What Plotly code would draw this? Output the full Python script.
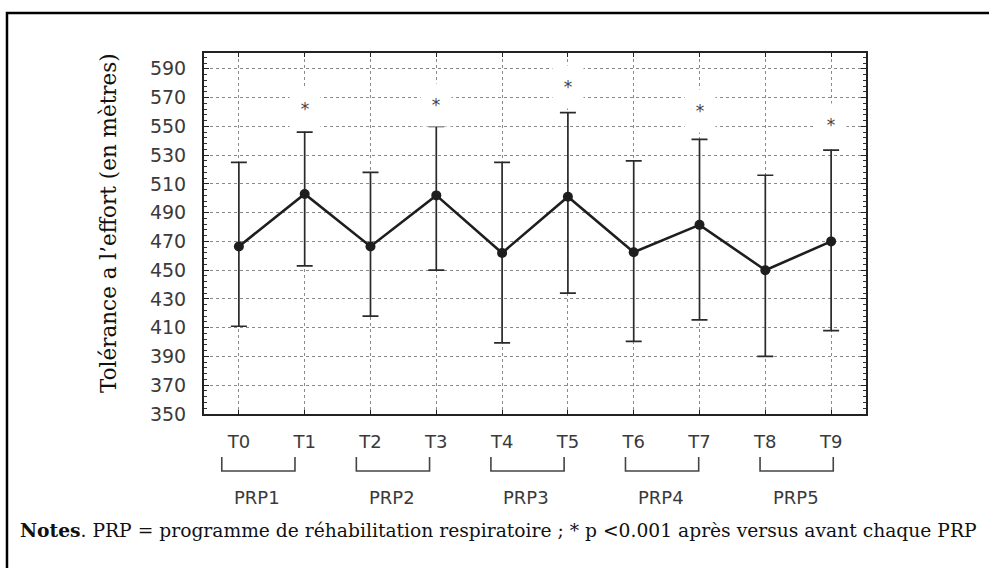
import plotly.graph_objects as go

# ---- data ----
time_labels = ["T0", "T1", "T2", "T3", "T4", "T5", "T6", "T7", "T8", "T9"]
mean_vals   = [466.5, 503, 466.5, 502, 462, 501, 462.5, 481.5, 450, 470]
upper_vals  = [525, 546, 518, 550, 525, 559.5, 526, 541, 516, 533.5]
lower_vals  = [411, 453, 418, 450, 399.5, 434, 400.5, 415.5, 390, 408]
star_idx    = [1, 3, 5, 7, 9]
star_vals   = [565, 567.5, 580, 563.5, 554]
prp_labels  = ["PRP1", "PRP2", "PRP3", "PRP4", "PRP5"]
y_ticks     = [350, 370, 390, 410, 430, 450, 470, 490, 510, 530, 550, 570, 590]

x_idx = list(range(len(time_labels)))
err_plus = [u - m for u, m in zip(upper_vals, mean_vals)]
err_minus = [m - l for m, l in zip(mean_vals, lower_vals)]

SANS = "DejaVu Sans"
SERIF = "DejaVu Serif"
TXT = "#3a3a3a"

fig = go.Figure()
fig.add_trace(go.Scatter(
    x=x_idx, y=mean_vals,
    mode="lines+markers",
    line=dict(color="#1e1e1e", width=2.6),
    marker=dict(color="#1e1e1e", size=10),
    error_y=dict(type="data", symmetric=False, array=err_plus, arrayminus=err_minus,
                 color="#2a2a2a", thickness=1.7, width=8),
    showlegend=False, hoverinfo="skip",
))

annotations = []
# significance stars with white boxes that interrupt the grid
for i, v in zip(star_idx, star_vals):
    annotations.append(dict(x=i, y=v, xref="x", yref="y", text="*", showarrow=False,
                            font=dict(family=SANS, size=17, color="#444444"),
                            bgcolor="white", width=28, height=40, yshift=-4,
                            valign="middle"))

# bracket / group-label horizontal placement (slightly stretched like the reference)
S = 1.0225
# PRP labels
for k, lab in enumerate(prp_labels):
    annotations.append(dict(x=S * 2 * k + 0.28, y=-0.23, xref="x", yref="paper", text=lab,
                            showarrow=False, font=dict(family=SANS, size=18, color=TXT),
                            xanchor="center", yanchor="middle"))

# y-axis title
annotations.append(dict(x=-0.145, y=0.529, xref="paper", yref="paper",
                        text="Tolérance a l\u2019effort (en mètres)", textangle=-90,
                        showarrow=False, font=dict(family=SERIF, size=21.5, color="#111111"),
                        xanchor="center", yanchor="middle"))
# notes
annotations.append(dict(x=-0.281, y=-0.321, xref="paper", yref="paper",
                        text="<b>Notes</b>. PRP = programme de réhabilitation respiratoire ; * p &lt;0.001 après versus avant chaque PRP",
                        showarrow=False, font=dict(family=SERIF, size=18.7, color="#111111"),
                        xanchor="left", yanchor="middle"))

shapes = []
# brackets under each pair
for k in range(len(prp_labels)):
    x0 = S * 2 * k - 0.26
    x1 = S * (2 * k + 1) - 0.17
    shapes.append(dict(type="path", xref="x", yref="paper",
                       path=f"M {x0} -0.119 L {x0} -0.158 L {x1} -0.158 L {x1} -0.119",
                       line=dict(color="#444444", width=1.6)))
# outer frame
shapes.append(dict(type="rect", xref="paper", yref="paper", x0=-0.2976, x1=1.25,
                   y0=-0.6, y1=1.111, line=dict(color="black", width=2.5),
                   fillcolor="rgba(0,0,0,0)", layer="above"))

fig.update_layout(
    width=989, height=568,
    margin=dict(l=204, r=123, t=53, b=154),
    paper_bgcolor="white", plot_bgcolor="white",
    annotations=annotations, shapes=shapes,
    xaxis=dict(range=[-0.53, 9.53], tickvals=x_idx, ticktext=time_labels,
               showgrid=True, gridcolor="#8a8a8a", griddash="dot", gridwidth=1,
               showline=True, linecolor="#222222", linewidth=2, mirror="allticks",
               ticks="inside", ticklen=4, tickcolor="#222222",
               ticklabelstandoff=10, zeroline=False,
               tickfont=dict(family=SANS, size=18, color=TXT)),
    yaxis=dict(range=[350, 601], tickvals=y_ticks,
               showgrid=True, gridcolor="#8a8a8a", griddash="dot", gridwidth=1,
               showline=True, linecolor="#222222", linewidth=2, mirror="allticks",
               ticks="inside", ticklen=5, tickcolor="#222222",
               minor=dict(dtick=4, tick0=350, ticks="inside", ticklen=3, tickcolor="#333333",
                          showgrid=False),
               ticklabelstandoff=12, zeroline=False,
               tickfont=dict(family=SANS, size=19, color=TXT)),
)

fig.write_html("out.html", config={"displayModeBar": False},
               post_script="document.body.style.margin='0';document.body.style.overflow='hidden';")
